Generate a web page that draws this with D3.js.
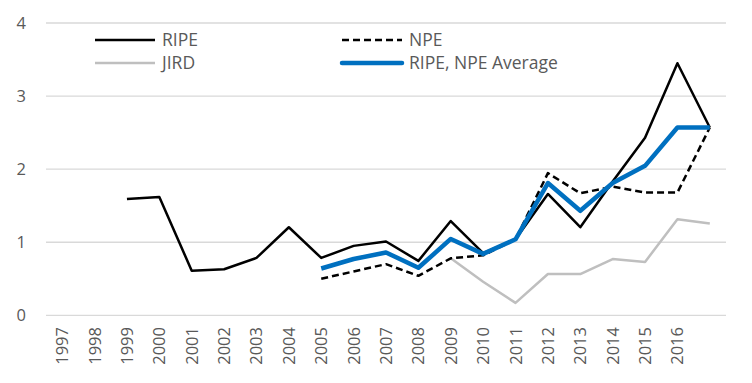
<!DOCTYPE html>
<html><head><meta charset="utf-8">
<script src="https://cdn.jsdelivr.net/npm/d3@7/dist/d3.min.js"></script>
<style>body{margin:0;background:#fff}svg{display:block}text{font-family:"Open Sans","Noto Sans",sans-serif;fill:#595959}</style>
</head><body><svg id="c" width="752" height="383"></svg>
<script>
const years = ["1997","1998","1999","2000","2001","2002","2003","2004","2005","2006","2007","2008","2009","2010","2011","2012","2013","2014","2015","2016","2017"];
const tickLabels = ["1997","1998","1999","2000","2001","2002","2003","2004","2005","2006","2007","2008","2009","2010","2011","2012","2013","2014","2015","2016",""];
const ripe = [null,null,1.59,1.62,0.61,0.63,0.785,1.205,0.785,0.95,1.01,0.745,1.29,0.85,1.04,1.66,1.205,1.83,2.43,3.45,2.57];
const npe  = [null,null,null,null,null,null,null,null,0.5,0.6,0.70,0.54,0.78,0.82,1.04,1.945,1.67,1.76,1.68,1.68,2.57];
const jird = [null,null,null,null,null,null,null,null,null,null,null,null,0.78,0.46,0.17,0.565,0.565,0.77,0.73,1.315,1.255];
const avg  = [null,null,null,null,null,null,null,null,0.64,0.77,0.86,0.65,1.045,0.84,1.04,1.81,1.43,1.81,2.045,2.57,2.57];
const yTicks = [0,1,2,3,4];

const svg = d3.select("#c");
const x = d3.scaleBand().domain(years).range([46,726]);
const y = d3.scaleLinear().domain([0,4]).range([315.3,23]);

svg.append("g").selectAll("line").data(yTicks).join("line")
  .attr("x1",46).attr("x2",726).attr("y1",d=>y(d)).attr("y2",d=>y(d))
  .attr("stroke","#d9d9d9").attr("stroke-width",1.3);

svg.append("g").selectAll("text").data(yTicks).join("text")
  .attr("x",26).attr("y",d=>y(d)).attr("dy","0.36em").attr("text-anchor","end")
  .attr("font-size",16.5).text(d=>d);

svg.append("g").selectAll("text").data(years).join("text")
  .attr("transform",(d,i)=>`translate(${x(d)+x.bandwidth()/2+6},327) rotate(-90)`)
  .attr("text-anchor","end").attr("font-size",16.5).text((d,i)=>tickLabels[i]);

const line = d3.line().defined(d=>d.v!=null).x(d=>x(d.k)+x.bandwidth()/2).y(d=>y(d.v));
const mk = arr => years.map((k,i)=>({k,v:arr[i]}));

const series = [
  {name:"JIRD", data:jird, color:"#bfbfbf", w:2.5, dash:null},
  {name:"NPE", data:npe, color:"#000", w:2.5, dash:"7,4"},
  {name:"RIPE", data:ripe, color:"#000", w:2.5, dash:null},
  {name:"RIPE, NPE Average", data:avg, color:"#0070c0", w:4.5, dash:null}
];
series.forEach(s=>{
  svg.append("path").datum(mk(s.data)).attr("d",line).attr("fill","none")
    .attr("stroke",s.color).attr("stroke-width",s.w).attr("stroke-dasharray",s.dash)
    .attr("stroke-linejoin","round");
});

const legend = [
  {name:"RIPE", color:"#000", w:2.5, dash:null, lx:95, ly:40},
  {name:"NPE", color:"#000", w:2.5, dash:"7,4", lx:342, ly:40},
  {name:"JIRD", color:"#bfbfbf", w:2.5, dash:null, lx:95, ly:63},
  {name:"RIPE, NPE Average", color:"#0070c0", w:4.5, dash:null, lx:342, ly:63}
];
const lg = svg.append("g");
legend.forEach(l=>{
  lg.append("line").attr("x1",l.lx).attr("x2",l.lx+60).attr("y1",l.ly).attr("y2",l.ly)
    .attr("stroke",l.color).attr("stroke-width",l.w).attr("stroke-dasharray",l.dash).attr("stroke-linecap",l.w>3?"round":"butt");
  lg.append("text").attr("x",l.lx+67).attr("y",l.ly).attr("dy","0.36em").attr("font-size",17.5).text(l.name);
});
</script></body></html>
